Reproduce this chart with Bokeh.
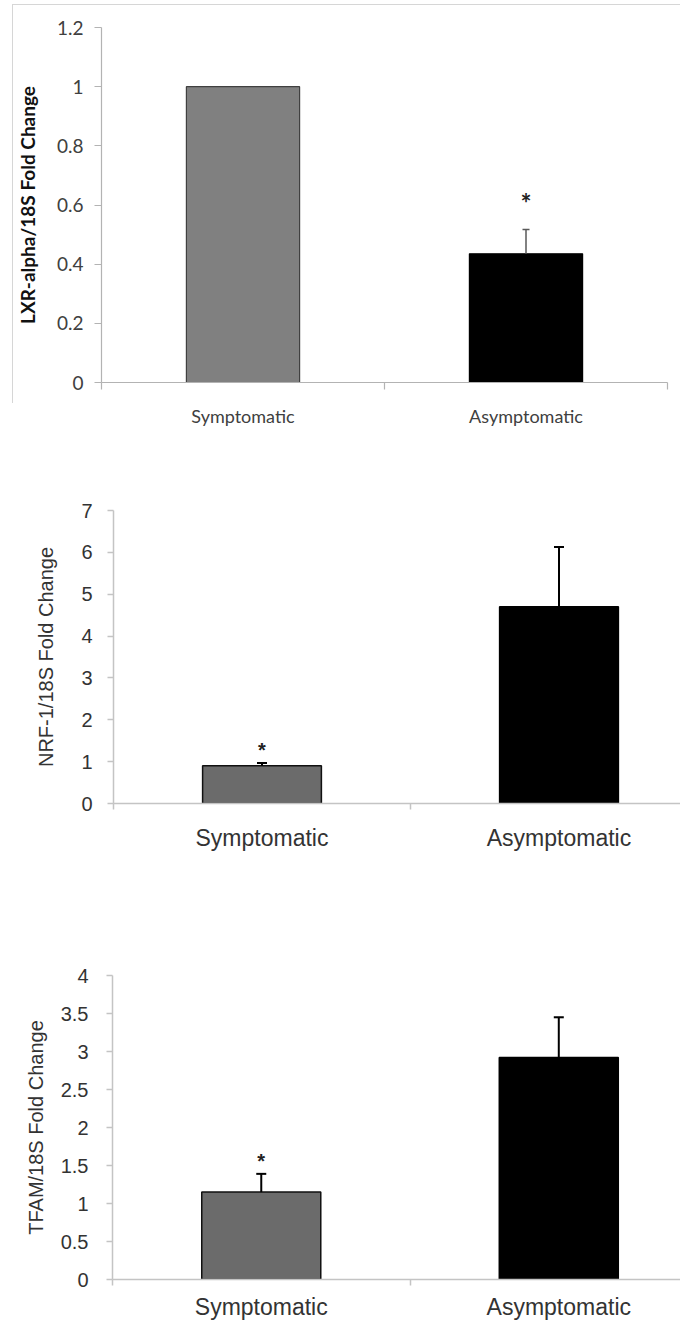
from bokeh.plotting import figure
from bokeh.models import (FixedTicker, CustomJSTickFormatter, Whisker, TeeHead,
                          ColumnDataSource, Range1d)
from bokeh.embed import file_html
from bokeh.resources import INLINE
from bokeh.core.properties import value

# ---------------- data ----------------
categories = ["Symptomatic", "Asymptomatic"]

lxr_title = "LXR-alpha/18S Fold Change"
lxr_values = [1.0, 0.435]
lxr_errors = [0.0, 0.082]
lxr_sig = [False, True]
lxr_ticks = [0, 0.2, 0.4, 0.6, 0.8, 1.0, 1.2]

nrf_title = "NRF-1/18S Fold Change"
nrf_values = [0.9, 4.7]
nrf_errors = [0.07, 1.43]
nrf_sig = [True, False]
nrf_ticks = [0, 1, 2, 3, 4, 5, 6, 7]

tfam_title = "TFAM/18S Fold Change"
tfam_values = [1.15, 2.92]
tfam_errors = [0.24, 0.53]
tfam_sig = [True, False]
tfam_ticks = [0, 0.5, 1, 1.5, 2, 2.5, 3, 3.5, 4]


def make_panel(title, values, errors, sig, ticks, st):
    n = len(categories)
    xs = [i + 0.5 for i in range(n)]
    p = figure(width=680, height=st["height"], output_backend="svg",
               toolbar_location=None,
               x_range=Range1d(0, st["x_end"]),
               y_range=Range1d(ticks[0], ticks[-1]),
               min_border_left=st["left"], min_border_right=st["right"],
               min_border_top=st["top"], min_border_bottom=st["bottom"])
    p.outline_line_color = None
    p.xgrid.visible = False
    p.ygrid.visible = False
    p.background_fill_color = "white"
    p.border_fill_color = "white"

    src = ColumnDataSource(dict(x=xs, value=values,
                                color=st["colors"], line=st["lines"]))
    p.vbar(x="x", top="value", bottom=0, width=0.4, source=src,
           fill_color="color", line_color="line", line_width=st["bar_lw"])

    # error bars (one-sided, upward)
    ex = [x for x, e in zip(xs, errors) if e > 0]
    ev = [v for v, e in zip(values, errors) if e > 0]
    eu = [v + e for v, e in zip(values, errors) if e > 0]
    esrc = ColumnDataSource(dict(x=ex, lower=ev, upper=eu))
    w = Whisker(source=esrc, base="x", lower="lower", upper="upper",
                dimension="height", line_color=st["err_color"],
                line_width=st["err_lw"], lower_head=None,
                upper_head=TeeHead(size=st["cap"], line_color=st["err_color"],
                                   line_width=st["err_lw"]),
                level="glyph")
    p.add_layout(w)

    # significance markers
    sx = [x for x, s in zip(xs, sig) if s]
    sy = [v + e for v, e, s in zip(values, errors, sig) if s]
    p.text(x=sx, y=sy, text=["*"] * len(sx), y_offset=st["star_off"],
           text_align="center", text_baseline="alphabetic",
           text_font=value(st["font"]), text_font_size=st["star_size"],
           text_font_style="bold", text_color="#222222")

    # y axis
    ya = p.yaxis[0]
    ya.ticker = FixedTicker(ticks=ticks, minor_ticks=[])
    ya.formatter = CustomJSTickFormatter(code="return String(Math.round(tick*100)/100);")
    ya.axis_label = title
    ya.axis_label_text_font = st["font"]
    ya.axis_label_text_font_size = st["title_size"]
    ya.axis_label_text_font_style = st["title_style"]
    ya.axis_label_text_color = st["title_color"]
    ya.axis_label_standoff = st["title_standoff"]
    ya.major_label_text_font = st["font"]
    ya.major_label_text_font_size = st["tick_size"]
    ya.major_label_text_color = st["text_color"]
    ya.major_label_standoff = st["ylab_standoff"]
    ya.major_tick_out = st["tick_out"]
    ya.major_tick_in = 0
    ya.axis_line_color = st["axis_color"]
    ya.axis_line_width = st["axis_lw"]
    ya.major_tick_line_color = st["axis_color"]
    ya.major_tick_line_width = st["axis_lw"]

    # x axis: labels at category centres, ticks at category boundaries
    xa = p.xaxis[0]
    xa.ticker = FixedTicker(ticks=xs, minor_ticks=list(range(n + 1)))
    xa.formatter = CustomJSTickFormatter(args=dict(labels=categories),
                                         code="return labels[Math.round(tick - 0.5)];")
    xa.major_label_text_font = st["font"]
    xa.major_label_text_font_size = st["xlab_size"]
    xa.major_label_text_color = st["text_color"]
    xa.major_label_standoff = st["xlab_standoff"]
    xa.major_tick_out = 0
    xa.major_tick_in = 0
    xa.minor_tick_out = st["tick_out"]
    xa.minor_tick_in = 0
    xa.axis_line_color = st["axis_color"]
    xa.axis_line_width = st["axis_lw"]
    xa.minor_tick_line_color = st["axis_color"]
    xa.minor_tick_line_width = st["axis_lw"]
    return p


common23 = dict(font="Liberation Sans", title_size="20px", title_style="normal",
                title_color="#333333", text_color="#333333", tick_size="20px",
                xlab_size="23px", tick_out=6, axis_color="#c4c4c4", axis_lw=1.5,
                colors=["#6b6b6b", "#000000"], lines=["#111111", "#000000"],
                bar_lw=1.5, err_color="#000000", err_lw=2, cap=10,
                star_size="20px", star_off=-13, right=0,
                x_end=567 / 297)

p1 = make_panel(lxr_title, lxr_values, lxr_errors, lxr_sig, lxr_ticks, dict(
    height=430, left=101, right=13, top=27, bottom=48, x_end=2,
    font="Lato", title_size="19px", title_style="bold", title_color="#111111",
    text_color="#404040", tick_size="19px", xlab_size="18px",
    title_standoff=15, ylab_standoff=11, xlab_standoff=15, tick_out=7,
    axis_color="#b3b3b3", axis_lw=1.2,
    colors=["#808080", "#000000"], lines=["#404040", "#000000"], bar_lw=1.2,
    err_color="#595959", err_lw=1.5, cap=7, star_size="26px", star_off=-27))

# light frame around the first panel (top and left edges)
p1.stylesheets = [
    ":host { position: relative; }"
    ":host::after { content: ''; position: absolute; left: 12px; top: 4px; "
    "width: 700px; height: 398px; border-left: 1px solid #d6d6d6; "
    "border-top: 1px solid #d6d6d6; pointer-events: none; z-index: 5; }"
]

p2 = make_panel(nrf_title, nrf_values, nrf_errors, nrf_sig, nrf_ticks, dict(
    common23, height=445, left=113, top=80, bottom=72,
    title_standoff=21, ylab_standoff=15, xlab_standoff=15))

p3 = make_panel(tfam_title, tfam_values, tfam_errors, tfam_sig, tfam_ticks, dict(
    common23, height=460, left=112, top=100, bottom=56,
    title_standoff=11, ylab_standoff=18, xlab_standoff=8))

html = file_html([p1, p2, p3], INLINE)
html = html.replace("</head>",
                    "<style>html, body { margin: 0; overflow: hidden; }</style></head>", 1)
open("out.html", "w").write(html)
